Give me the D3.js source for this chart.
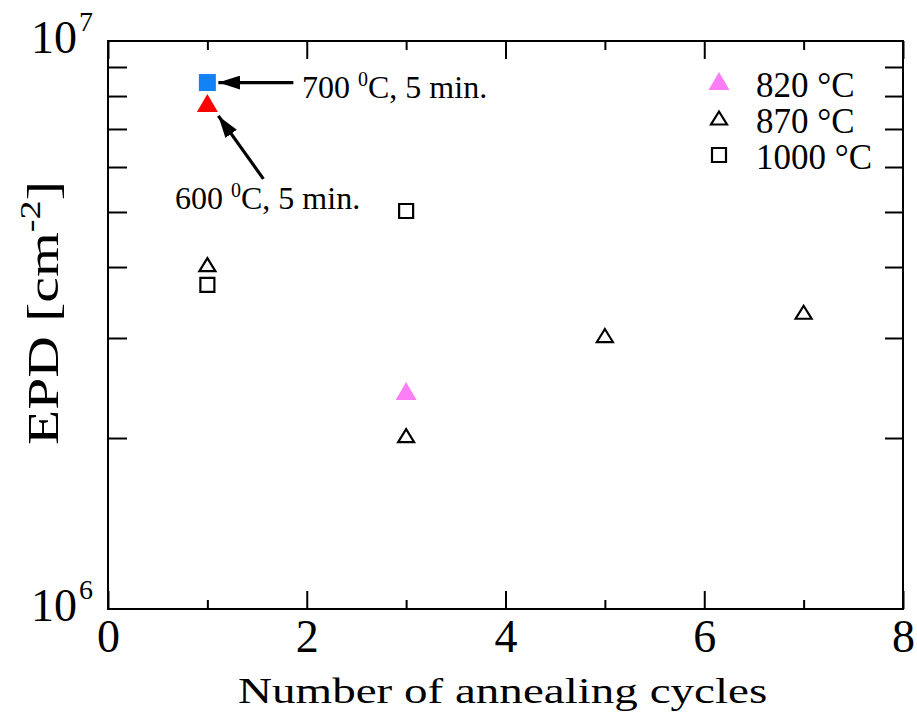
<!DOCTYPE html>
<html>
<head>
<meta charset="utf-8">
<script src="https://cdn.jsdelivr.net/npm/d3@7"></script>
<style>
  html, body { margin: 0; padding: 0; background: #fff; }
  svg { display: block; font-family: "Liberation Serif", "Times New Roman", serif; }
</style>
</head>
<body>
<svg id="chart" width="917" height="722"></svg>
<script>
// EPD versus number of annealing cycles
const xDomain = [0, 8];
const yDomain = [1e6, 1e7];
const xMajorTicks = [0, 2, 4, 6, 8];
const xMinorTicks = [1, 3, 5, 7];
const yMinorTicks = [2e6, 3e6, 4e6, 5e6, 6e6, 7e6, 8e6, 9e6];
const yDecadeLabels = [{ value: 1e6, exp: "6" }, { value: 1e7, exp: "7" }];

// 820 °C cycles
const cycles820 = [3];
const epd820 = [2.42e6];
// 870 °C cycles
const cycles870 = [1, 3, 5, 7];
const epd870 = [4.04e6, 2.02e6, 3.03e6, 3.33e6];
// 1000 °C cycles
const cycles1000 = [1, 3];
const epd1000 = [3.72e6, 5.02e6];
// single short anneals
const cycles600 = [1];
const epd600 = [7.78e6];
const cycles700 = [1];
const epd700 = [8.45e6];

const legendLabels = ["820 °C", "870 °C", "1000 °C"];

const svg = d3.select("#chart");
const plotLeft = 108, plotRight = 903, plotTop = 41, plotBottom = 609;

const x = d3.scaleLinear().domain(xDomain).range([plotLeft, plotRight]);
const y = d3.scaleLog().domain(yDomain).range([plotBottom, plotTop]);

const axisStyle = g => {
  g.select(".domain").remove();
  g.selectAll(".tick line").attr("stroke", "#000").attr("stroke-width", 2);
};

// bottom axis: major ticks with labels, minor ticks without
svg.append("g").attr("transform", `translate(0,${plotBottom})`)
  .call(d3.axisBottom(x).tickValues(xMajorTicks).tickSizeInner(-18).tickSizeOuter(0).tickFormat(d3.format("d")))
  .call(axisStyle)
  .call(g => g.selectAll(".tick text")
    .attr("dy", null).attr("y", 43)
    .attr("font-size", 46).attr("font-family", "Liberation Serif").attr("fill", "#000"));
svg.append("g").attr("transform", `translate(0,${plotBottom})`)
  .call(d3.axisBottom(x).tickValues(xMinorTicks).tickSizeInner(-9).tickSizeOuter(0).tickFormat(""))
  .call(axisStyle);

// top axis mirrors the bottom ticks
svg.append("g").attr("transform", `translate(0,${plotTop})`)
  .call(d3.axisTop(x).tickValues(xMajorTicks).tickSizeInner(-18).tickSizeOuter(0).tickFormat(""))
  .call(axisStyle);
svg.append("g").attr("transform", `translate(0,${plotTop})`)
  .call(d3.axisTop(x).tickValues(xMinorTicks).tickSizeInner(-9).tickSizeOuter(0).tickFormat(""))
  .call(axisStyle);

// left and right log axes
svg.append("g").attr("transform", `translate(${plotLeft},0)`)
  .call(d3.axisLeft(y).tickValues(yMinorTicks).tickSizeInner(-19).tickSizeOuter(0).tickFormat(""))
  .call(axisStyle);
svg.append("g").attr("transform", `translate(${plotRight},0)`)
  .call(d3.axisRight(y).tickValues(yMinorTicks).tickSizeInner(-18).tickSizeOuter(0).tickFormat(""))
  .call(axisStyle);

// decade labels 10^6, 10^7
const dec = svg.append("g").selectAll("text").data(yDecadeLabels).join("text")
  .attr("x", 31).attr("y", d => y(d.value) + 12)
  .attr("font-size", 46).attr("fill", "#000");
dec.append("tspan").text("10");
dec.append("tspan").attr("dx", 2).attr("dy", -22).attr("font-size", 28).text(d => d.exp);

// frame
svg.append("rect")
  .attr("x", plotLeft).attr("y", plotTop)
  .attr("width", plotRight - plotLeft).attr("height", plotBottom - plotTop)
  .attr("fill", "none").attr("stroke", "#000").attr("stroke-width", 2);

// axis titles (set in a wide face, stretched along the reading direction)
svg.append("text")
  .attr("transform", "translate(238,703) scale(1.345,1)")
  .attr("font-size", 35).attr("fill", "#000")
  .text("Number of annealing cycles");

const yTitle = svg.append("text")
  .attr("transform", "translate(58,445) rotate(-90) scale(1.28,1)")
  .attr("font-size", 45).attr("fill", "#000");
yTitle.append("tspan").text("EPD [cm");
yTitle.append("tspan").attr("dy", -18).attr("font-size", 30).text("-2");
yTitle.append("tspan").attr("dy", 18).text("]");

// marker shapes (centred on their bounding box)
const tri = (w, h) => `M0,${-h / 2}L${w / 2},${h / 2}L${-w / 2},${h / 2}Z`;
const sq = s => `M${-s / 2},${-s / 2}h${s}v${s}h${-s}Z`;

const pts = (xs, ys) => xs.map((c, i) => ({ c, v: ys[i] }));
const plot = (data, path, fill, stroke) => {
  svg.append("g").selectAll("path").data(data).join("path")
    .attr("transform", d => `translate(${x(d.c)},${y(d.v)})`)
    .attr("d", path)
    .attr("fill", fill)
    .attr("stroke", stroke)
    .attr("stroke-width", stroke === "none" ? 0 : 2.2)
    .attr("stroke-linejoin", "miter");
};

plot(pts(cycles1000, epd1000), sq(14), "none", "#000");
plot(pts(cycles870, epd870), tri(16, 13), "none", "#000");
plot(pts(cycles820, epd820), tri(21, 18), "#fb7ef6", "none");
plot(pts(cycles600, epd600), tri(21, 18), "#ff0000", "none");
plot(pts(cycles700, epd700), sq(17), "#1382f7", "none");

// annotations with arrows
svg.append("defs").append("marker")
  .attr("id", "arrowhead").attr("viewBox", "0 0 22 14")
  .attr("refX", 22).attr("refY", 7)
  .attr("markerWidth", 22).attr("markerHeight", 14)
  .attr("markerUnits", "userSpaceOnUse").attr("orient", "auto")
  .append("path").attr("d", "M0,0L22,7L0,14Z").attr("fill", "#000");

const p700 = { x: x(cycles700[0]), y: y(epd700[0]) };
const p600 = { x: x(cycles600[0]), y: y(epd600[0]) };

svg.append("line")
  .attr("x1", p700.x + 86).attr("y1", p700.y)
  .attr("x2", p700.x + 11).attr("y2", p700.y)
  .attr("stroke", "#000").attr("stroke-width", 3.2)
  .attr("marker-end", "url(#arrowhead)");
svg.append("line")
  .attr("x1", p600.x + 56).attr("y1", p600.y + 76)
  .attr("x2", p600.x + 11).attr("y2", p600.y + 13)
  .attr("stroke", "#000").attr("stroke-width", 3.2)
  .attr("marker-end", "url(#arrowhead)");

const annot = (tx, ty, temp) => {
  const t = svg.append("text").attr("x", tx).attr("y", ty)
    .attr("font-size", 32).attr("fill", "#000");
  t.append("tspan").text(temp + " ");
  t.append("tspan").attr("dy", -12).attr("font-size", 20).text("0");
  t.append("tspan").attr("dy", 12).text("C, 5 min.");
};
annot(302, 98, "700");
annot(175, 209, "600");

// legend
const legend = svg.append("g");
const legendRows = [
  { label: legendLabels[0], path: tri(21, 18), fill: "#fb7ef6", stroke: "none" },
  { label: legendLabels[1], path: tri(16, 13), fill: "none", stroke: "#000" },
  { label: legendLabels[2], path: sq(14), fill: "none", stroke: "#000" }
];
legendRows.forEach((r, i) => {
  const cy = 81 + i * 37;
  legend.append("path")
    .attr("transform", `translate(719,${cy})`)
    .attr("d", r.path).attr("fill", r.fill)
    .attr("stroke", r.stroke).attr("stroke-width", r.stroke === "none" ? 0 : 2.2);
  legend.append("text")
    .attr("x", 756).attr("y", 97 + i * 36)
    .attr("font-size", 35).attr("fill", "#000")
    .text(r.label);
});
</script>
</body>
</html>
